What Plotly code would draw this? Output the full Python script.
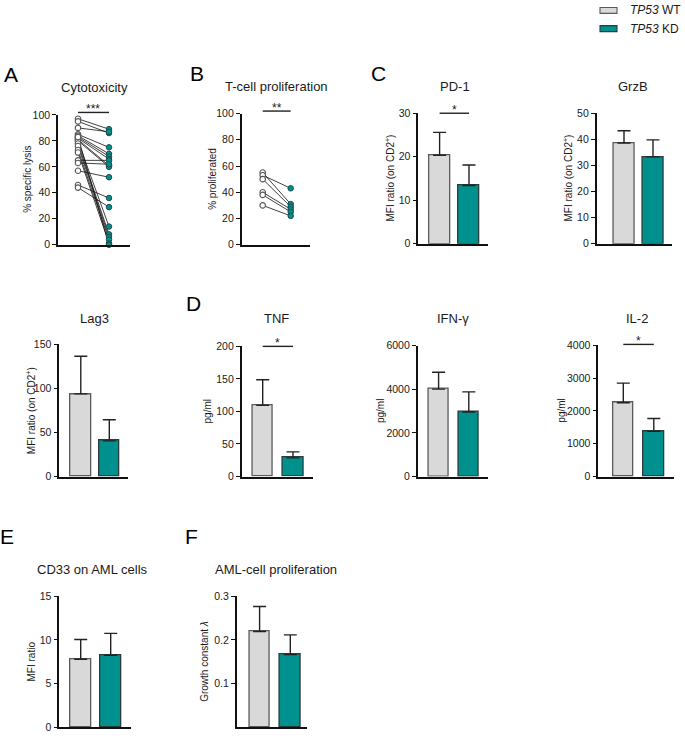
import plotly.graph_objects as go

W, H = 685, 738

# ---------------- data ----------------
groups = ["TP53 WT", "TP53 KD"]

cyto_wt = [97, 95, 90, 85, 84, 83, 82, 81, 80, 80, 78, 76, 73, 71, 65, 63, 57, 46, 44, 83]
cyto_kd = [89, 86, 87, 75, 70, 68, 66, 61, 60, 14, 8, 6, 4, 1, 65, 62, 52, 36, 29, 0]

prolif_wt = [55, 53, 50, 40, 38, 30]
prolif_kd = [31, 43, 29, 27, 25, 22]

pd1_mean = [20.35, 13.4]
pd1_err = [5.25, 4.7]
grzb_mean = [38.6, 33.3]
grzb_err = [4.7, 6.5]
lag3_mean = [93.8, 40.5]
lag3_err = [42.8, 23.9]
tnf_mean = [109.3, 28.7]
tnf_err = [39.3, 9.1]
ifng_mean = [4010, 2960]
ifng_err = [770, 920]
il2_mean = [2250, 1380]
il2_err = [600, 390]
cd33_mean = [7.8, 8.25]
cd33_err = [2.25, 2.5]
aml_mean = [0.2195, 0.1665]
aml_err = [0.057, 0.045]

ticks_0_100 = [0, 20, 40, 60, 80, 100]
ticks_pd1 = [0, 10, 20, 30]
ticks_grzb = [0, 10, 20, 30, 40, 50]
ticks_lag3 = [0, 50, 100, 150]
ticks_tnf = [0, 50, 100, 150, 200]
ticks_ifng = [0, 2000, 4000, 6000]
ticks_il2 = [0, 1000, 2000, 3000, 4000]
ticks_cd33 = [0, 5, 10, 15]
ticks_aml = [0.1, 0.2, 0.3]
ticktext_aml = ["0.1", "0.2", "0.3"]

# ---------------- style ----------------
FONT = "Liberation Sans, Arial, Helvetica, sans-serif"
TXT = "#1a1a1a"
WT_FILL = "#d9d9d9"
WT_EDGE = "#5a5a5a"
KD_FILL = "#00918e"
KD_EDGE = "#2b3b3b"
AXC = "#111111"

# panel geometry in pixels: x0, x1, ytop, ybottom, center WT, center KD
panels = [
    dict(key="A", box=(58, 130, 110.7, 242.7), cx=(78, 109), top=100, ticks=ticks_0_100,
         title="Cytotoxicity", tpos=(94, 83), ytitle="% specific lysis", ytx=28),
    dict(key="B", box=(241.7, 310, 109.3, 242.7), cx=(262.7, 290.7), top=100, ticks=ticks_0_100,
         title="T-cell proliferation", tpos=(276.7, 82), ytitle="% proliferated", ytx=211.7),
    dict(key="PD1", box=(418.3, 488, 109, 241.7), cx=(439.6, 469), top=30, ticks=ticks_pd1,
         title="PD-1", tpos=(455, 82), ytitle="MFI ratio (on CD2<sup>+</sup>)", ytx=390,
         mean=pd1_mean, err=pd1_err),
    dict(key="GrzB", box=(596.7, 671.7, 109, 241.7), cx=(624, 653), top=50, ticks=ticks_grzb,
         title="GrzB", tpos=(633, 82), ytitle="MFI ratio (on CD2<sup>+</sup>)", ytx=568,
         mean=grzb_mean, err=grzb_err),
    dict(key="Lag3", box=(59.3, 128, 344, 478.3), cx=(80.8, 109.3), top=150, ticks=ticks_lag3,
         title="Lag3", tpos=(94, 317.7), ytitle="MFI ratio (on CD2<sup>+</sup>)", ytx=31.7,
         mean=lag3_mean, err=lag3_err),
    dict(key="TNF", box=(241.7, 313, 346, 478.3), cx=(262.7, 293), top=200, ticks=ticks_tnf,
         title="TNF", tpos=(276, 318), ytitle="pg/ml", ytx=207,
         mean=tnf_mean, err=tnf_err),
    dict(key="IFN", box=(417.7, 488.3, 345.3, 478.3), cx=(438.6, 468.8), top=6000, ticks=ticks_ifng,
         title="IFN-γ", tpos=(453, 318), ytitle="pg/ml", ytx=380,
         mean=ifng_mean, err=ifng_err),
    dict(key="IL2", box=(598.3, 674, 345, 478.3), cx=(623.3, 653.8), top=4000, ticks=ticks_il2,
         title="IL-2", tpos=(636.7, 318), ytitle="pg/ml", ytx=561.7,
         mean=il2_mean, err=il2_err),
    dict(key="E", box=(59.3, 131, 600, 733.3), cx=(80.7, 110.7), top=15, ticks=ticks_cd33,
         title="CD33 on AML cells", tpos=(92, 573), ytitle="MFI ratio", ytx=31.7,
         mean=cd33_mean, err=cd33_err),
    dict(key="F", box=(236.7, 307.3, 600, 733.3), cx=(259.6, 290.3), top=0.3, ticks=ticks_aml,
         ticktext=ticktext_aml,
         title="AML-cell proliferation", tpos=(275.7, 573), ytitle="Growth constant <i>λ</i>", ytx=205,
         mean=aml_mean, err=aml_err),
]

BAR_PX = 20.5

fig = go.Figure()
annotations = []
shapes = []


def pxX(px):
    return px / W


def pxY(py):
    return 1 - py / H


layout_axes = {}
for i, p in enumerate(panels):
    n = i + 1
    sfx = "" if n == 1 else str(n)
    x0, x1, yt, yb = p["box"]
    c1, c2 = p["cx"]
    step = c2 - c1
    xr = [1 - (c1 - x0) / step, 1 + (x1 - c1) / step]
    layout_axes["xaxis" + sfx] = dict(
        domain=[pxX(x0), pxX(x1)], range=xr, anchor="y" + sfx,
        showline=True, linecolor=AXC, linewidth=1.6, showticklabels=False,
        ticks="", showgrid=False, zeroline=False, fixedrange=True)
    tt = p.get("ticktext", [str(t) for t in p["ticks"]])
    layout_axes["yaxis" + sfx] = dict(
        domain=[pxY(yb), pxY(yt)], range=[0, p["top"]], anchor="x" + sfx,
        showline=True, linecolor=AXC, linewidth=1.6, ticks="outside", ticklen=4,
        tickwidth=1.4, tickcolor=AXC, tickvals=p["ticks"], ticktext=tt,
        tickfont=dict(family=FONT, size=10.5, color=TXT), showgrid=False, zeroline=False,
        fixedrange=True)

    xa = "x" + sfx
    ya = "y" + sfx
    if "mean" in p:
        fig.add_trace(go.Bar(
            x=[1, 2], y=p["mean"], width=BAR_PX / step, xaxis=xa, yaxis=ya,
            marker=dict(color=[WT_FILL, KD_FILL],
                        line=dict(color=[WT_EDGE, KD_EDGE], width=1.3)),
            error_y=dict(type="data", symmetric=False, array=p["err"], arrayminus=[0, 0],
                         color="#222222", thickness=1.4, width=6.5),
            showlegend=False, hoverinfo="skip"))
    else:
        wt = cyto_wt if p["key"] == "A" else prolif_wt
        kd = cyto_kd if p["key"] == "A" else prolif_kd
        lx, ly = [], []
        for a, b in zip(wt, kd):
            lx += [1, 2, None]
            ly += [a, b, None]
        fig.add_trace(go.Scatter(x=lx, y=ly, mode="lines", xaxis=xa, yaxis=ya,
                                 line=dict(color="#111111", width=0.8),
                                 showlegend=False, hoverinfo="skip"))
        fig.add_trace(go.Scatter(x=[1] * len(wt), y=wt, mode="markers", xaxis=xa, yaxis=ya,
                                 marker=dict(size=5.5, color="white",
                                             line=dict(color="#555555", width=1.1)),
                                 cliponaxis=False, showlegend=False, hoverinfo="skip"))
        fig.add_trace(go.Scatter(x=[2] * len(kd), y=kd, mode="markers", xaxis=xa, yaxis=ya,
                                 marker=dict(size=5.5, color=KD_FILL,
                                             line=dict(color="#1f4a4a", width=1.0)),
                                 cliponaxis=False, showlegend=False, hoverinfo="skip"))

    # panel title
    annotations.append(dict(x=pxX(p["tpos"][0]), y=pxY(p["tpos"][1]), xref="paper", yref="paper",
                            text=p["title"], showarrow=False, xanchor="center", yanchor="middle",
                            font=dict(family=FONT, size=13, color=TXT)))
    # y title
    annotations.append(dict(x=pxX(p["ytx"]), y=pxY((yt + yb) / 2), xref="paper", yref="paper",
                            text=p["ytitle"], showarrow=False, textangle=-90,
                            xanchor="center", yanchor="middle",
                            font=dict(family=FONT, size=10, color=TXT)))

# significance brackets
sig = {"A": ("***", 2.5), "B": ("**", 2.5), "PD1": ("*", 0), "TNF": ("*", 0), "IL2": ("*", 1)}
for p in panels:
    if p["key"] not in sig:
        continue
    stars, off = sig[p["key"]]
    x0, x1, yt, yb = p["box"]
    c1, c2 = p["cx"]
    ly = yt - off
    shapes.append(dict(type="line", xref="paper", yref="paper",
                       x0=pxX(c1), x1=pxX(c2), y0=pxY(ly), y1=pxY(ly),
                       line=dict(color="#222222", width=1.4)))
    annotations.append(dict(x=pxX((c1 + c2) / 2), y=pxY(ly - 3), xref="paper", yref="paper",
                            text=stars, showarrow=False, xanchor="center", yanchor="middle",
                            font=dict(family=FONT, size=12, color=TXT)))

# panel letters
letters = [("A", 11, 70), ("B", 197, 68.5), ("C", 378.5, 68.5), ("D", 193.5, 302.5),
           ("E", 6.5, 539.5), ("F", 191.5, 539.5)]
for t, x, y in letters:
    annotations.append(dict(x=pxX(x), y=pxY(y), xref="paper", yref="paper", text=t,
                            showarrow=False, xanchor="center", yanchor="middle",
                            font=dict(family=FONT, size=21, color="#000000")))

# legend
leg = [(groups[0], WT_FILL, WT_EDGE, 4.5), (groups[1], KD_FILL, KD_EDGE, 23)]
for name, fill, edge, cy in leg:
    shapes.append(dict(type="rect", xref="paper", yref="paper",
                       x0=pxX(600), x1=pxX(617), y0=pxY(cy - 3), y1=pxY(cy + 3),
                       fillcolor=fill, line=dict(color=edge, width=1.1)))
    gene, cond = name.split(" ")
    annotations.append(dict(x=pxX(628), y=pxY(cy), xref="paper", yref="paper",
                            text="<i>%s</i> %s" % (gene, cond), showarrow=False,
                            xanchor="left", yanchor="middle",
                            font=dict(family=FONT, size=12, color=TXT)))

fig.update_layout(
    width=W, height=H, margin=dict(l=0, r=0, t=0, b=0),
    paper_bgcolor="white", plot_bgcolor="white",
    annotations=annotations, shapes=shapes, bargap=0, showlegend=False,
    font=dict(family=FONT, color=TXT),
    **layout_axes)

fig.write_html("out.html")
